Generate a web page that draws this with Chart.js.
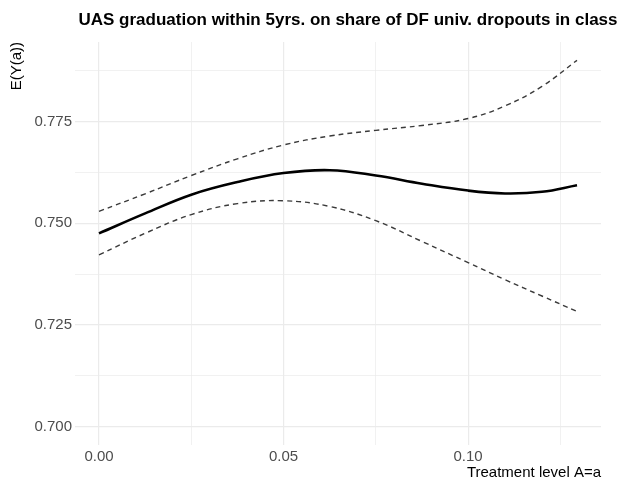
<!DOCTYPE html>
<html>
<head>
<meta charset="utf-8">
<script src="https://cdn.jsdelivr.net/npm/chart.js@4"></script>
<style>
html,body{margin:0;padding:0;background:#fff;}
#wrap{width:632px;height:483px;}
</style>
</head>
<body>
<div id="wrap"><canvas id="c" width="632" height="483"></canvas></div>
<script>
const titleText = "UAS graduation within 5yrs. on share of DF univ. dropouts in class";
const xTitle = "Treatment level A=a";
const yTitle = "E(Y(a))";
const treatment = [0, 0.0125, 0.025, 0.0375, 0.05, 0.0625, 0.075, 0.0875, 0.10, 0.11, 0.12, 0.1295];
const estimate  = [0.7475, 0.7524, 0.7570, 0.7601, 0.7623, 0.7630, 0.7617, 0.7597, 0.7580, 0.7573, 0.7577, 0.7593];
const upperCI   = [0.7529, 0.7572, 0.7617, 0.7658, 0.7692, 0.7714, 0.7728, 0.7740, 0.7757, 0.7788, 0.7836, 0.7900];
const lowerCI   = [0.7422, 0.7475, 0.7521, 0.7548, 0.7555, 0.7541, 0.7506, 0.7455, 0.7403, 0.7361, 0.7321, 0.7283];
const xMajor = [0, 0.05, 0.10];
const xLabels = ["0.00", "0.05", "0.10"];
const xMinor = [0.025, 0.075, 0.125];
const yMajor = [0.700, 0.725, 0.750, 0.775];
const yLabels = ["0.700", "0.725", "0.750", "0.775"];
const yMinor = [0.7125, 0.7375, 0.7625, 0.7875];

const pts = arr => treatment.map((x, i) => ({x: x, y: arr[i]}));
const FONT = "'Liberation Sans', Arial, Helvetica, sans-serif";

function tickSet(major, minor) {
  return [...major.map(v => ({value: v, major: true})), ...minor.map(v => ({value: v, major: false}))]
    .sort((a, b) => a.value - b.value);
}
function labelFor(major, labels, v) {
  for (let i = 0; i < major.length; i++) if (Math.abs(major[i] - v) < 1e-9) return labels[i];
  return "";
}
function isMajor(major, v) { return major.some(m => Math.abs(m - v) < 1e-9); }

const titlePlugin = {
  id: 'customTitle',
  afterDraw(chart) {
    const ctx = chart.ctx;
    ctx.save();
    ctx.font = "bold 17px " + FONT;
    ctx.fillStyle = "#000";
    ctx.textAlign = "center";
    ctx.textBaseline = "middle";
    ctx.fillText(titleText, 348, 20);
    ctx.restore();
  }
};

new Chart(document.getElementById('c'), {
  type: 'line',
  data: {
    datasets: [
      {label: 'upper', data: pts(upperCI), borderColor: '#3a3a3a', borderWidth: 1.4, borderDash: [5, 4], pointRadius: 0, tension: 0.4, fill: false},
      {label: 'estimate', data: pts(estimate), borderColor: '#000', borderWidth: 2.6, pointRadius: 0, tension: 0.4, fill: false},
      {label: 'lower', data: pts(lowerCI), borderColor: '#3a3a3a', borderWidth: 1.4, borderDash: [5, 4], pointRadius: 0, tension: 0.4, fill: false}
    ]
  },
  options: {
    responsive: false,
    animation: false,
    layout: {padding: {top: 42, right: 31, left: 0, bottom: 0}},
    plugins: {legend: {display: false}, title: {display: false}, tooltip: {enabled: false}},
    scales: {
      x: {
        type: 'linear',
        min: -0.0065, max: 0.136,
        border: {display: false},
        afterBuildTicks: s => { s.ticks = tickSet(xMajor, xMinor); },
        afterFit: s => { s.height = 38; },
        grid: {
          drawTicks: false,
          color: '#ebebeb',
          lineWidth: c => isMajor(xMajor, c.tick ? c.tick.value : 0) ? 1.2 : 0.7
        },
        ticks: {
          autoSkip: false, maxRotation: 0, padding: 3,
          color: '#4d4d4d', font: {family: FONT, size: 15},
          callback: v => labelFor(xMajor, xLabels, v)
        },
        title: {display: true, text: xTitle, align: 'end', color: '#000', font: {family: FONT, size: 15}, padding: {top: 0, bottom: 1}}
      },
      y: {
        type: 'linear',
        min: 0.6955, max: 0.7945,
        border: {display: false},
        afterBuildTicks: s => { s.ticks = tickSet(yMajor, yMinor); },
        afterFit: s => { s.width = 75; },
        grid: {
          drawTicks: false,
          color: '#ebebeb',
          lineWidth: c => isMajor(yMajor, c.tick ? c.tick.value : 0) ? 1.2 : 0.7
        },
        ticks: {
          autoSkip: false, padding: 3,
          color: '#4d4d4d', font: {family: FONT, size: 15},
          callback: v => labelFor(yMajor, yLabels, v)
        },
        title: {display: true, text: yTitle, align: 'end', color: '#000', font: {family: FONT, size: 15}, padding: {top: 8, bottom: 0}}
      }
    }
  },
  plugins: [titlePlugin]
});
</script>
</body>
</html>
